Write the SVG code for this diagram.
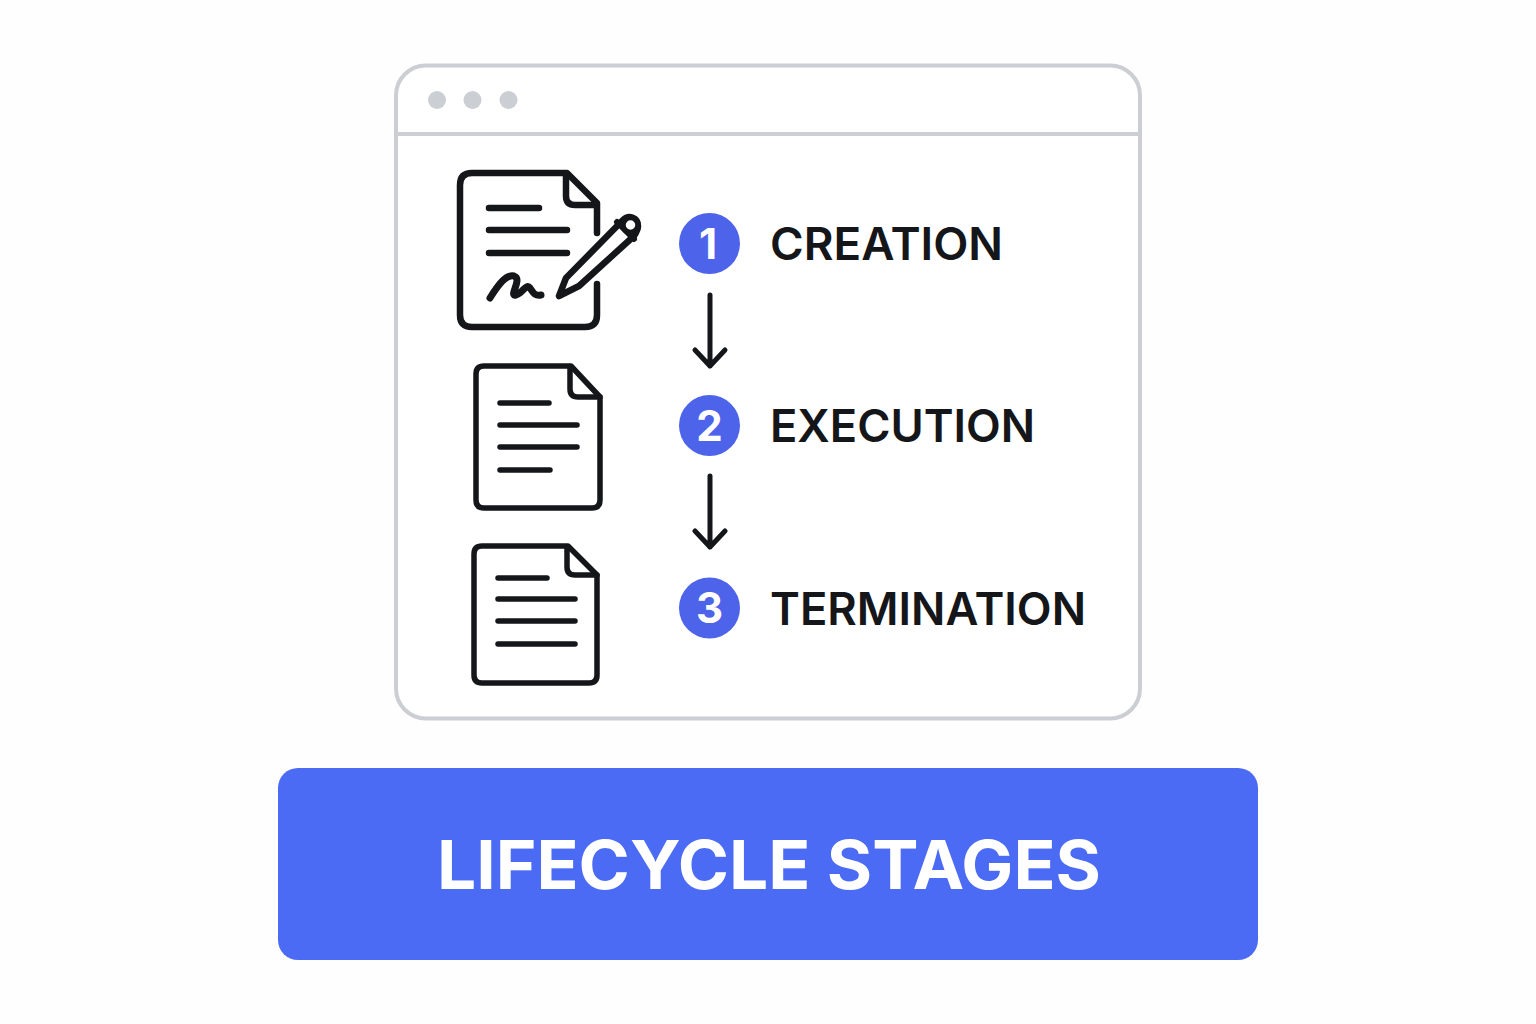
<svg xmlns="http://www.w3.org/2000/svg" width="1536" height="1024" viewBox="0 0 1536 1024">
<style>
.ink{fill:none;stroke:#14161a;stroke-linecap:round;stroke-linejoin:round}
.t{font-family:Inter,"Liberation Sans",sans-serif;font-weight:600;font-size:45px;fill:#14161a}
.n{font-family:Inter,"Liberation Sans",sans-serif;font-weight:700;font-size:42px;fill:#fff;text-anchor:middle}
.c{fill:#4c63ea}
.d{fill:#cbced3}
</style>
<rect width="1536" height="1024" fill="#fefefe"/>
<g id="window">
<rect x="396" y="65.500" width="744" height="653" rx="30" fill="#fff" stroke="#cbced3" stroke-width="4"/>
<line x1="396" y1="134" x2="1140" y2="134" stroke="#cbced3" stroke-width="4"/>
<circle class="d" cx="437" cy="100" r="9"/><circle class="d" cx="472.500" cy="100" r="9"/><circle class="d" cx="508.500" cy="100" r="9"/>
</g>
<g id="doc-creation" class="ink" stroke-width="6.500">
<path d="M597 233V203L567 173H472Q460 173 460 185V315Q460 327 472 327H585Q597 327 597 315V284"/>
<path d="M566 174V196Q566 205 575 205H596"/>
<path d="M489 208H539M489 230H567M489 253H567"/>
<path d="M490 298C498 285 506 274 514 276C523 279 508 297 516 295C523 293 526 283 530 288C533 292 534 296 541 295" stroke-width="7"/>
<path d="M559 296L566 278L623 220C629 214 638 218 638 226C638 230 636 233 634 236L579 286Z" fill="#fff"/>
<path d="M617 222L634 239" stroke-width="6"/>
<circle cx="630.500" cy="225" r="7.500" stroke-width="5.500" fill="#fff"/>
</g>
<g id="doc-execution" class="ink" stroke-width="5.500">
<path d="M571 366H484Q476 366 476 374V500Q476 508 484 508H592Q600 508 600 500V397Z"/>
<path d="M570 367V389Q570 397 578 397H600"/>
<path d="M500 403H549M500 425H577M500 447H577M500 470H550"/>
</g>
<g id="doc-termination" class="ink" stroke-width="5.500">
<path d="M568 546H482Q474 546 474 554V675Q474 683 482 683H589Q597 683 597 675V575Z"/>
<path d="M567 547V567Q567 575 575 575H597"/>
<path d="M498 578H547M498 599H575M498 621H575M498 644H575"/>
</g>
<g id="stage-1"><circle class="c" cx="709.500" cy="243.500" r="30.500"/><text class="n" x="708" y="258.500">1</text><text class="t" x="770" y="260" textLength="233" lengthAdjust="spacingAndGlyphs">CREATION</text></g>
<g id="stage-2"><circle class="c" cx="709.500" cy="425.500" r="30.500"/><text class="n" x="709.500" y="440.500">2</text><text class="t" x="770" y="442" textLength="265" lengthAdjust="spacingAndGlyphs">EXECUTION</text></g>
<g id="stage-3"><circle class="c" cx="709.500" cy="608" r="30.500"/><text class="n" x="709.500" y="623">3</text><text class="t" x="770" y="625" textLength="316" lengthAdjust="spacingAndGlyphs">TERMINATION</text></g>
<g id="connectors" class="ink" stroke-width="5">
<path d="M710 295V366M695 350L710 366L725 350"/>
<path d="M710 476V547M695 531L710 547L725 531"/>
</g>
<g id="banner">
<rect x="278" y="768" width="980" height="192" rx="20" fill="#4c6bf5"/>
<text x="769" y="889" text-anchor="middle" font-family="Inter,'Liberation Sans',sans-serif" font-weight="700" font-size="68px" fill="#fff" textLength="664" lengthAdjust="spacingAndGlyphs">LIFECYCLE STAGES</text>
</g>
</svg>
